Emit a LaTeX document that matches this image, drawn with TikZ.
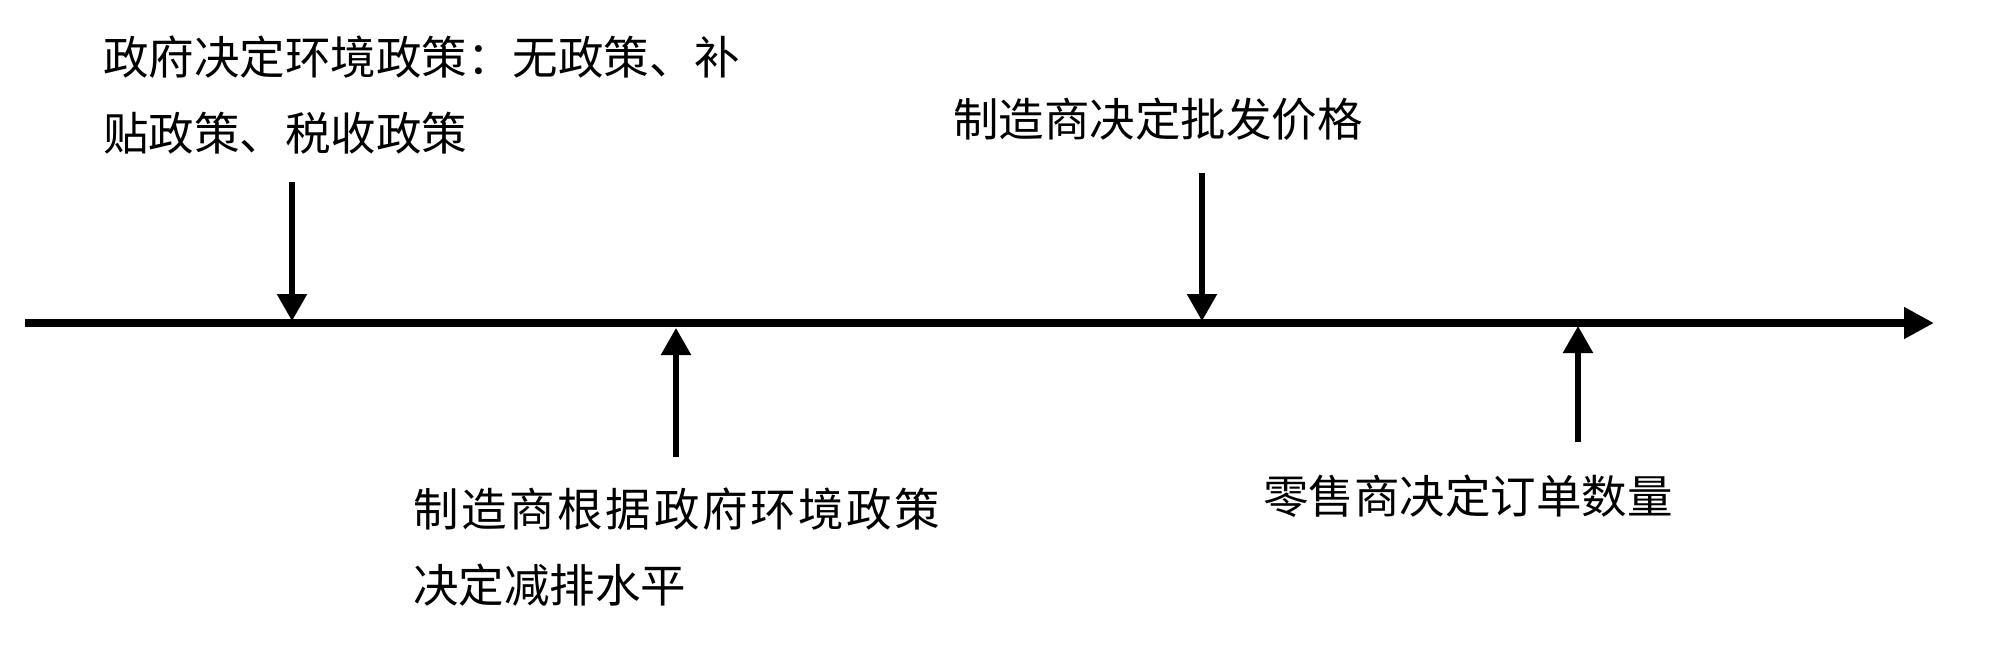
\documentclass[tikz,border=0pt]{standalone}
\usepackage{fontspec}
\newfontfamily\cjk{Noto Sans CJK SC}
\usetikzlibrary{arrows.meta}
\begin{document}
\begin{tikzpicture}[x=0.5pt,y=-0.5pt,
  lbl/.style={anchor=north west,inner sep=0pt,align=left,
    font=\cjk\fontsize{22.75pt}{38.25pt}\selectfont},
  axisline/.style={line width=4pt,-{Triangle[length=15pt,width=15pt]}},
  evarrow/.style={line width=2.75pt,-{Triangle[length=13.5pt,width=14.5pt]}}]
\useasboundingbox (0,0) rectangle (2000,654);
% axis
\coordinate (a0) at (25,323);
\coordinate (a1) at (1934,323);
\draw[axisline] (a0) -- (a1);
% labels
\node[lbl] (t1) at (103,35) {政府决定环境政策：无政策、补\\贴政策、税收政策};
\node[lbl] (t2) at (413,487) {{\addfontfeatures{LetterSpace=5.8}制造商根据政府环境政策}\\决定减排水平};
\node[lbl] (t3) at (953,98) {制造商决定批发价格};
\node[lbl] (t4) at (1263,475) {零售商决定订单数量};
% event arrows
\coordinate (s1) at (292,182);  \coordinate (e1) at (292,321);
\coordinate (s2) at (676,457);  \coordinate (e2) at (676,328);
\coordinate (s3) at (1202,173); \coordinate (e3) at (1202,321);
\coordinate (s4) at (1578,442); \coordinate (e4) at (1578,326);
\draw[evarrow] (s1) -- (e1);
\draw[evarrow] (s2) -- (e2);
\draw[evarrow] (s3) -- (e3);
\draw[evarrow] (s4) -- (e4);
\end{tikzpicture}
\end{document}
